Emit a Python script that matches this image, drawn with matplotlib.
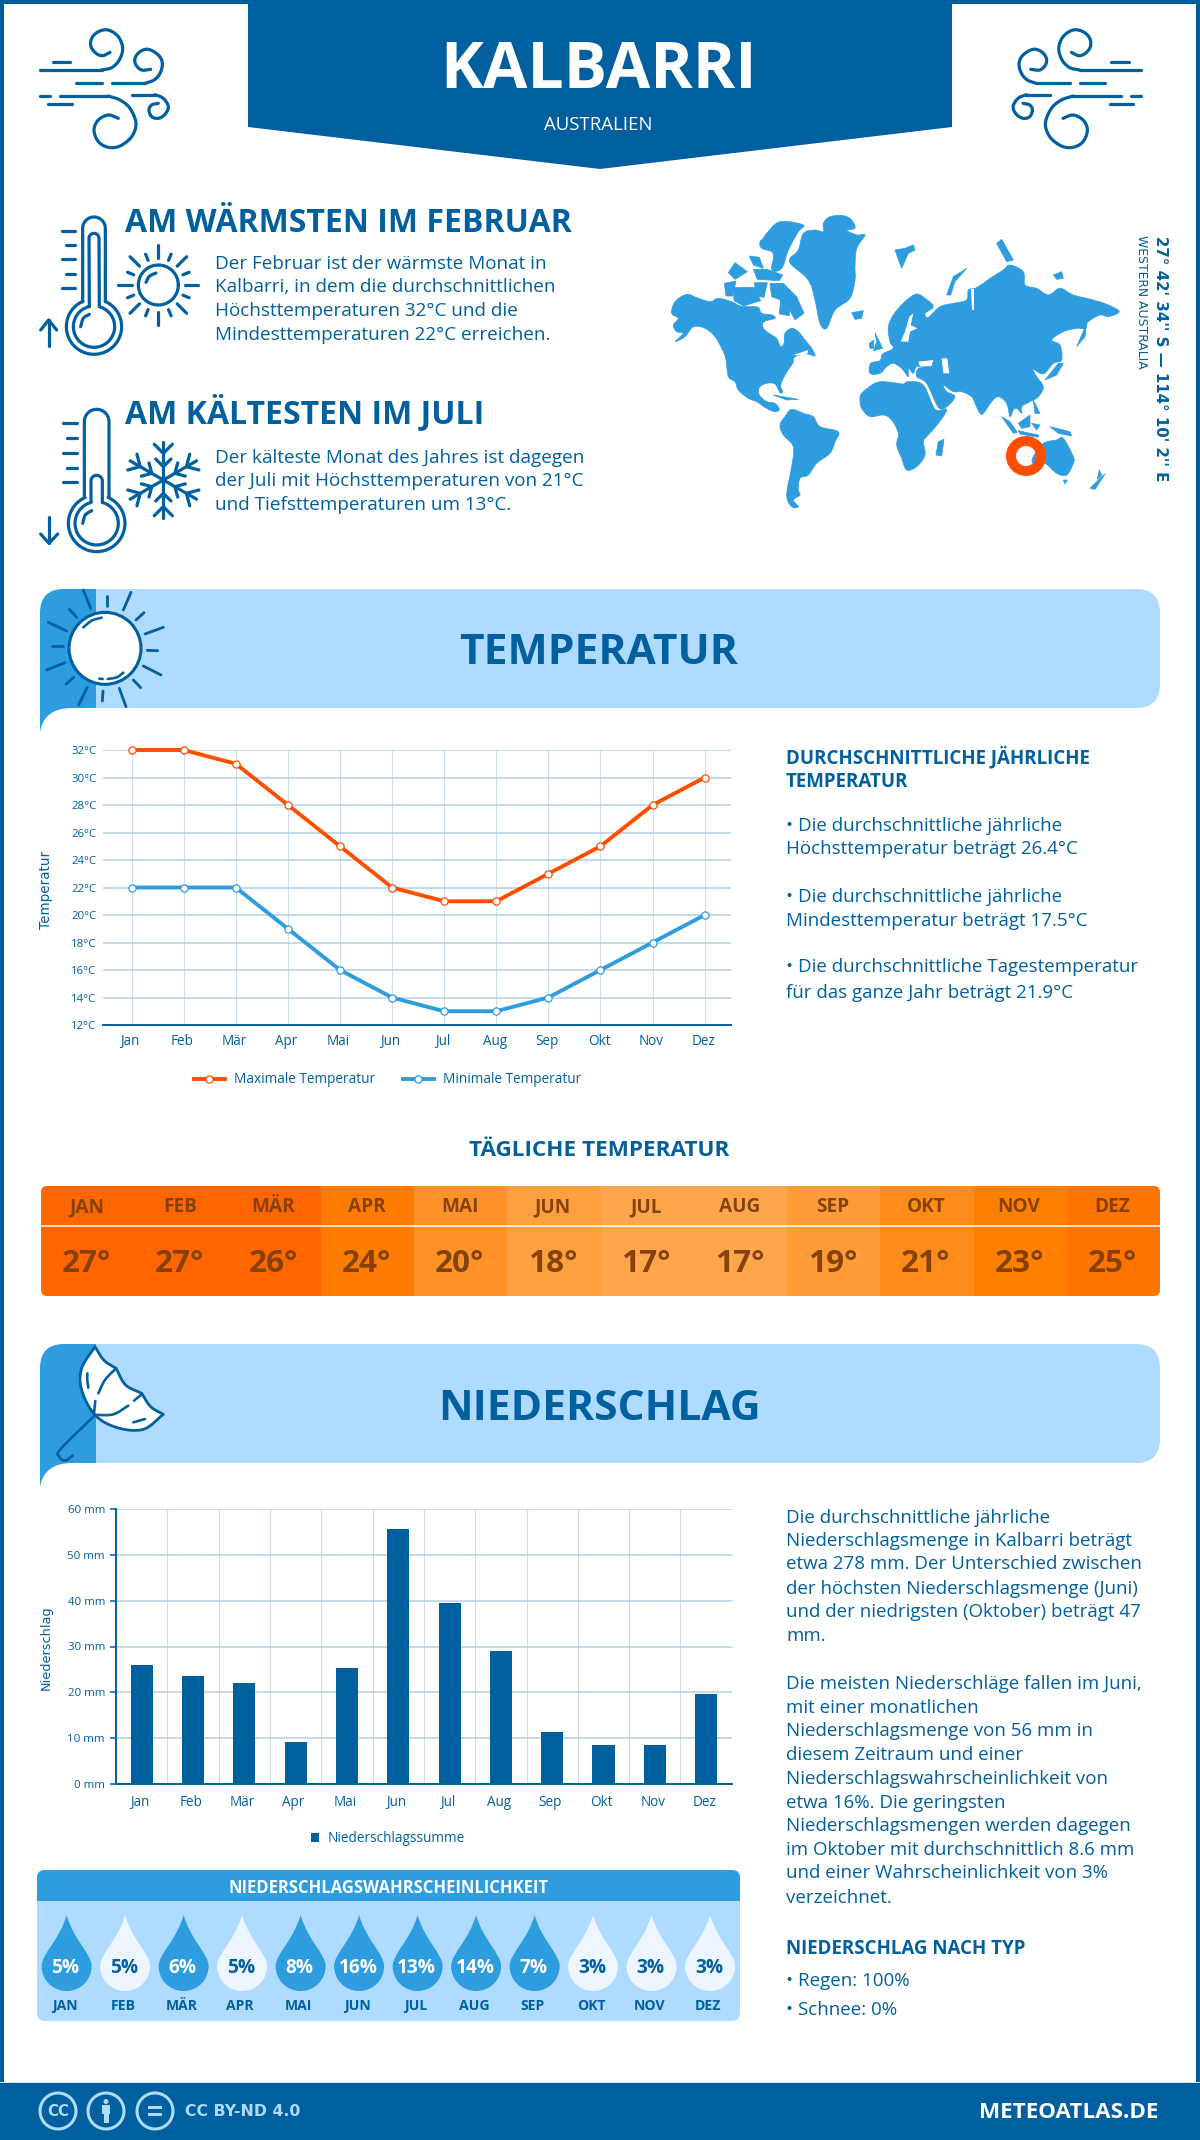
import numpy as np
import matplotlib
matplotlib.use('Agg')
import matplotlib.pyplot as plt
from matplotlib.path import Path
from matplotlib.patches import PathPatch, Rectangle, Circle, FancyBboxPatch, Polygon, Wedge
from matplotlib.transforms import ScaledTranslation

plt.rcParams['font.family'] = ['Open Sans', 'DejaVu Sans']

# ---------- data ----------
months = ['Jan', 'Feb', 'Mär', 'Apr', 'Mai', 'Jun', 'Jul', 'Aug', 'Sep', 'Okt', 'Nov', 'Dez']
months_upper = ['JAN', 'FEB', 'MÄR', 'APR', 'MAI', 'JUN', 'JUL', 'AUG', 'SEP', 'OKT', 'NOV', 'DEZ']
temp_max = [32, 32, 31, 28, 25, 22, 21, 21, 23, 25, 28, 30]
temp_min = [22, 22, 22, 19, 16, 14, 13, 13, 14, 16, 18, 20]
temp_ticks = [12, 14, 16, 18, 20, 22, 24, 26, 28, 30, 32]
daily_temp = [27, 27, 26, 24, 20, 18, 17, 17, 19, 21, 23, 25]
rain_sum = [25.9, 23.5, 22.0, 9.2, 25.3, 55.7, 39.6, 29.0, 11.4, 8.6, 8.6, 19.6]
rain_ticks = [0, 10, 20, 30, 40, 50, 60]
rain_prob = [5, 5, 6, 5, 8, 16, 13, 14, 7, 3, 3, 3]

# ---------- styles ----------
BLUE = '#005F9E'
MID = '#2E9DE0'
LIGHT = '#AEDBFF'
ORANGE = '#FF4E00'
GRID = '#B3CFE3'
daily_colors = ['#FF6600', '#FF6600', '#FF6600', '#FF7C00', '#FF9226', '#FFA040',
                '#FFA64D', '#FFA64D', '#FF9C38', '#FF8C1A', '#FF8000', '#FF7300']
drop_dark = [1, 0, 1, 0, 1, 1, 1, 1, 1, 0, 0, 0]

W, H = 1200, 2140
fig = plt.figure(figsize=(W / 100, H / 100), dpi=100, facecolor='white')
bg = fig.add_axes([0, 0, 1, 1], zorder=0)
bg.set_xlim(0, W)
bg.set_ylim(H, 0)
bg.axis('off')


def fs(px):
    return px * 0.72


def T(x, y, s, px, w=400, c=BLUE, ha='left', va='center', ax=bg, **kw):
    return ax.text(x, y, s, fontsize=fs(px), fontweight=w, color=c, ha=ha, va=va, **kw)


def spline(pts, n=12):
    p = np.array(pts, float)
    p = np.vstack([2 * p[0] - p[1], p, 2 * p[-1] - p[-2]])
    out = []
    for i in range(1, len(p) - 2):
        for t in np.linspace(0, 1, n, endpoint=False):
            a, b, c, d = p[i - 1], p[i], p[i + 1], p[i + 2]
            out.append(0.5 * (2 * b + (c - a) * t + (2 * a - 5 * b + 4 * c - d) * t ** 2 + (3 * b - a - 3 * c + d) * t ** 3))
    out.append(p[-2])
    return np.array(out)


def closed_spline(pts, n=5):
    p = np.array(pts, float)
    out = []
    k = len(p)
    for i in range(k):
        a, b, c, d = p[i - 1], p[i], p[(i + 1) % k], p[(i + 2) % k]
        for t in np.linspace(0, 1, n, endpoint=False):
            out.append(0.5 * (2 * b + (c - a) * t + (2 * a - 5 * b + 4 * c - d) * t ** 2 + (3 * b - a - 3 * c + d) * t ** 3))
    return np.array(out)


def stroke(arr, ox, oy, lw=3.2, c=BLUE, scale=1 / 3, mirror=None, z=3):
    a = np.array(arr, float) * scale + [ox, oy]
    if mirror is not None:
        a[:, 0] = mirror - a[:, 0]
    bg.plot(a[:, 0], a[:, 1], color=c, lw=lw * 0.72, solid_capstyle='round', solid_joinstyle='round', zorder=z)


def arc(cx, cy, r, a0, a1, n=40):
    t = np.radians(np.linspace(a0, a1, n))
    return np.c_[cx + r * np.cos(t), cy - r * np.sin(t)]


# ---------- frame, header, footer ----------
bg.add_patch(Rectangle((0, 0), 4, H, color=BLUE, lw=0))
bg.add_patch(Rectangle((W - 4, 0), 4, H, color=BLUE, lw=0))
bg.add_patch(Rectangle((0, 0), W, 3.5, color=BLUE, lw=0))
bg.add_patch(Polygon([(248, 0), (952, 0), (952, 127), (600, 169), (248, 127)], color=BLUE, lw=0))
bg.add_patch(Rectangle((0, 2082), W, 1.5, color='#DDE3E8', lw=0))
bg.add_patch(Rectangle((0, 2083), W, 57, color=BLUE, lw=0))
T(599, 71, 'KALBARRI', 64.5, 700, 'white', ha='center')
T(598, 125, 'AUSTRALIEN', 18.7, 400, 'white', ha='center')

# wind icons
wind = [
    [(30, 150), (215, 150)],
    spline([(215, 150), (245, 143), (268, 120), (278, 85), (265, 50), (235, 30), (205, 35), (185, 55), (183, 80), (198, 100), (218, 107), (240, 97)]),
    [(68, 125), (120, 125)],
    [(138, 190), (215, 190)],
    [(245, 190), (345, 190)],
    spline([(345, 190), (372, 180), (390, 160), (397, 130), (385, 105), (355, 88), (330, 95), (315, 115), (318, 135), (335, 150), (362, 148)]),
    [(30, 228), (60, 228)],
    [(90, 228), (235, 228)],
    spline([(235, 228), (270, 240), (300, 265), (318, 310), (305, 350), (270, 378), (235, 382), (205, 365), (192, 330), (205, 300), (235, 285), (265, 295)]),
    [(55, 252), (125, 252)],
    [(305, 224), (375, 224)],
    spline([(375, 224), (400, 235), (415, 260), (405, 283), (385, 295), (365, 290), (357, 270), (365, 255), (385, 250)]),
]
for seg in wind:
    stroke(seg, 30, 20)
    stroke(seg, 30, 20, mirror=1181.4)

# ---------- thermometers ----------
ox, oy = 30, 205
out = np.vstack([[(158, 290)], arc(192, 70, 34, 180, 0), [(226, 290)], arc(192, 365, 83, 66, -246)])
stroke(out, ox, oy)
inn = np.vstack([[(178, 305)], arc(192, 100, 15, 180, 0), [(208, 305)], arc(192, 365, 62, 75, -255)])
stroke(inn, ox, oy)
stroke(spline([(152, 365), (160, 340), (178, 328)]), ox, oy)
for x0, y0 in [(97, 78), (107, 121), (97, 163), (107, 206), (97, 248)]:
    stroke([(x0, y0), (135, y0)], ox, oy)
stroke([(56, 423), (56, 345)], ox, oy)
stroke([(32, 375), (56, 345), (80, 375)], ox, oy)
# little sun
stroke(arc(385, 240, 60, 0, 360), ox, oy)
stroke(spline([(348, 232), (358, 214), (378, 204)]), ox, oy)
for ang in range(0, 360, 45):
    c_, s_ = np.cos(np.radians(ang)), np.sin(np.radians(ang))
    r0, r1 = (80, 120)
    stroke([(385 + r0 * c_, 240 - r0 * s_), (385 + r1 * c_, 240 - r1 * s_)], ox, oy)
for ang in np.arange(22.5, 360, 45):
    c_, s_ = np.cos(np.radians(ang)), np.sin(np.radians(ang))
    stroke([(385 + 80 * c_, 240 - 80 * s_), (385 + 100 * c_, 240 - 100 * s_)], ox, oy)

ox, oy = 30, 400
out = np.vstack([[(163, 290)], arc(200, 65, 37, 180, 0), [(237, 290)], arc(200, 370, 85, 66, -246)])
stroke(out, ox, oy)
inn = np.vstack([[(183, 305)], [(183, 243)], arc(200, 243, 17, 180, 0), [(217, 305)], arc(200, 370, 65, 75, -255)])
stroke(inn, ox, oy)
stroke(spline([(158, 370), (166, 345), (185, 332)]), ox, oy)
for x0, y0 in [(100, 70), (110, 115), (100, 158), (110, 203), (100, 247)]:
    stroke([(x0, y0), (140, y0)], ox, oy)
stroke([(57, 350), (57, 430)], ox, oy)
stroke([(32, 402), (57, 430), (83, 402)], ox, oy)
# snowflake
cx, cy = 400, 240
for ang in range(30, 390, 60):
    t = np.radians(ang)
    u = np.array([np.cos(t), -np.sin(t)])
    v = np.array([-u[1], u[0]])
    ctr = np.array([cx, cy])
    stroke([ctr, ctr + 115 * u], ox, oy)
    for r, b in [(80, 38), (40, 32)]:
        p = ctr + r * u
        stroke([p + b * (0.72 * u + 0.72 * v), p, p + b * (0.72 * u - 0.72 * v)], ox, oy)

# ---------- top text ----------
T(125, 224, 'AM WÄRMSTEN IM FEBRUAR', 32, 700)
for y, s in zip([264, 287, 311, 335], ['Der Februar ist der wärmste Monat in',
                                        'Kalbarri, in dem die durchschnittlichen',
                                        'Höchsttemperaturen 32°C und die',
                                        'Mindesttemperaturen 22°C erreichen.']):
    T(215, y, s, 18.85)
T(125, 413, 'AM KÄLTESTEN IM JULI', 32, 700)
for y, s in zip([458, 481, 505], ['Der kälteste Monat des Jahres ist dagegen',
                                   'der Juli mit Höchsttemperaturen von 21°C',
                                   'und Tiefsttemperaturen um 13°C.']):
    T(215, y, s, 18.85)

# ---------- world map (decorative silhouette, coordinates of the crop grid) ----------
land = [
    # North America
    [(35, 340), (45, 305), (80, 283), (110, 293), (150, 305), (175, 295), (215, 305), (240, 318), (270, 320), (295, 322), (305, 340),
     (335, 345), (345, 355), (312, 365), (310, 385), (335, 405), (350, 415), (362, 440), (372, 430), (375, 400), (395, 385), (415, 395),
     (435, 420), (455, 445), (465, 468), (440, 462), (405, 470), (398, 490), (378, 520), (362, 555), (368, 575), (360, 578), (345, 552),
     (320, 550), (298, 562), (298, 585), (320, 605), (345, 610), (358, 628), (345, 635), (320, 625), (290, 605), (265, 595), (235, 570),
     (225, 545), (205, 530), (198, 480), (190, 455), (165, 410), (135, 385), (100, 380), (75, 410), (45, 425), (70, 400), (50, 395),
     (40, 375), (55, 355)],
    # Greenland
    [(490, 70), (510, 50), (550, 47), (575, 60), (585, 85), (560, 90), (590, 105), (615, 105), (590, 145), (585, 200), (585, 240), (570, 295), (525, 330),
     (500, 385), (480, 370), (465, 300), (445, 240), (395, 195), (390, 175), (415, 150), (430, 100), (465, 90), (490, 95)],
    # Canadian Arctic
    [(320, 100), (360, 65), (430, 75), (415, 95), (385, 150), (365, 205), (335, 210), (340, 160), (305, 145), (300, 125), (310, 115)],
    [(330, 250), (370, 250), (410, 290), (432, 340), (405, 360), (375, 305), (335, 290)],
    [(193, 250), (228, 243), (218, 288), (198, 288)],
    [(220, 262), (282, 262), (302, 302), (250, 318), (222, 302)],
    [(205, 218), (225, 188), (262, 215), (225, 238)],
    [(280, 208), (322, 208), (368, 225), (358, 242), (292, 238)],
    [(283, 248), (322, 248), (312, 292), (288, 288)],
    [(362, 298), (388, 303), (388, 347), (358, 342)],
    [(268, 168), (298, 172), (310, 205), (280, 195)],
    # Iceland
    [(575, 338), (610, 332), (605, 355), (585, 358)],
    # South America
    [(360, 675), (375, 650), (395, 628), (430, 640), (460, 650), (480, 680), (535, 695), (525, 725), (510, 760), (470, 790), (445, 825),
     (420, 835), (415, 870), (420, 885), (400, 900), (415, 920), (395, 920), (380, 885), (395, 800), (400, 740), (370, 705)],
    # Africa
    [(600, 600), (605, 580), (640, 552), (665, 545), (700, 548), (730, 552), (745, 545), (790, 555), (825, 628), (860, 628), (835, 670),
     (800, 710), (790, 725), (795, 765), (770, 800), (740, 810), (725, 775), (710, 735), (715, 700), (695, 660), (670, 645), (630, 650), (605, 625)],
    # Eurasia
    [(630, 520), (632, 490), (660, 482), (668, 462), (700, 445), (690, 425), (686, 375), (715, 325), (765, 283), (795, 295), (820, 320),
     (795, 340), (805, 352), (840, 320), (880, 310), (920, 300), (925, 270), (945, 265), (970, 250), (990, 235), (1030, 210), (1050, 195),
     (1090, 215), (1095, 255), (1130, 265), (1165, 285), (1200, 265), (1240, 285), (1300, 300), (1345, 315), (1378, 335), (1345, 350),
     (1320, 345), (1285, 365), (1275, 385), (1250, 385), (1210, 395), (1175, 420), (1200, 435), (1205, 480), (1180, 490), (1150, 522),
     (1120, 508), (1130, 530), (1150, 560), (1135, 590), (1110, 605), (1085, 620), (1085, 640), (1070, 625), (1060, 630), (1050, 650),
     (1040, 610), (1015, 590), (995, 605), (970, 640), (960, 640), (945, 610), (935, 590), (905, 575), (880, 575), (850, 555), (860, 575),
     (885, 590), (860, 620), (835, 622), (800, 550), (770, 530), (775, 505), (800, 503), (770, 500), (760, 520), (745, 505), (745, 530),
     (725, 505), (700, 490), (680, 500), (660, 520)],
    # UK & Ireland
    [(645, 398), (668, 445), (640, 452), (650, 425)],
    [(628, 430), (642, 420), (640, 445), (630, 445)],
    # Svalbard, Novaya Zemlya, Severnaya, Franz Josef
    [(705, 150), (735, 145), (760, 135), (765, 150), (745, 160), (725, 205)],
    [(860, 285), (880, 230), (920, 205), (885, 245), (872, 285)],
    [(1010, 130), (1025, 118), (1060, 180), (1040, 185)],
    [(1180, 225), (1205, 215), (1210, 235), (1190, 238)],
    # Madagascar, Japan, Sakhalin
    [(835, 725), (852, 718), (845, 768), (828, 765)],
    [(1155, 540), (1195, 490), (1210, 490), (1190, 525)],
    [(1250, 440), (1280, 370), (1275, 410)],
    # South-East Asia
    [(1075, 670), (1110, 645), (1110, 680), (1085, 685)],
    [(1025, 650), (1050, 665), (1072, 697), (1060, 700)],
    [(1075, 692), (1135, 705), (1135, 712), (1080, 702)],
    [(1170, 680), (1230, 695), (1235, 708), (1195, 700)],
    [(1120, 600), (1140, 640), (1125, 640)],
    [(1115, 670), (1140, 675), (1130, 690)],
    # Cuba
    [(340, 585), (415, 598), (380, 600)],
    # Australia, Tasmania, New Zealand
    [(1120, 770), (1150, 730), (1190, 720), (1210, 715), (1240, 770), (1240, 790), (1220, 825), (1190, 820), (1155, 790), (1120, 790)],
    [(1210, 840), (1222, 840), (1215, 852)],
    [(1290, 865), (1325, 830), (1335, 822), (1305, 868)],
    [(1318, 810), (1325, 825), (1312, 838)],
]
holes = [
    [(775, 485), (820, 480), (815, 498), (780, 500)],
    [(845, 475), (862, 475), (868, 520), (850, 520)],
    [(722, 425), (735, 395), (748, 350), (760, 340), (752, 375), (772, 385), (750, 395), (745, 425)],
    [(934, 268), (943, 268), (943, 330), (936, 330)],
    [(400, 465), (445, 450), (440, 468)],
]
mx, my = 660, 200
for pg in land:
    shape = closed_spline(pg) if len(pg) > 8 else np.array(pg, float)
    bg.add_patch(Polygon(shape / 3 + [mx, my], fc=MID, ec=MID, lw=0.5, joinstyle='round', zorder=2))
for pg in holes:
    bg.add_patch(Polygon(np.array(pg, float) / 3 + [mx, my], color='white', lw=0, zorder=2.2))
bg.add_patch(Wedge((1026, 456), 20, 0, 360, width=10, color=ORANGE, lw=0, zorder=4))
bg.text(1161, 358.5, "27° 42' 34'' S — 114° 10' 2'' E", fontsize=fs(15), fontweight='bold', family='DejaVu Sans',
        color=BLUE, rotation=-90, ha='center', va='center')
bg.text(1141, 302, 'WESTERN AUSTRALIA', fontsize=fs(12.4), family='DejaVu Sans', color=BLUE, rotation=-90, ha='center', va='center')


# ---------- section banners ----------
def banner(top, bottom, title, title_y):
    r = 24
    verts = [(96, top), (1160 - r, top), (1160, top), (1160, top + r), (1160, bottom - r), (1160, bottom), (1160 - r, bottom), (96, bottom), (96, top)]
    codes = [Path.MOVETO, Path.LINETO, Path.CURVE3, Path.CURVE3, Path.LINETO, Path.CURVE3, Path.CURVE3, Path.LINETO, Path.CLOSEPOLY]
    bg.add_patch(PathPatch(Path(verts, codes), fc=LIGHT, ec='none', zorder=1))
    verts = [(96, top), (64, top), (40, top), (40, top + 24), (40, bottom + 24), (44, bottom), (72, bottom), (96, bottom), (96, top)]
    codes = [Path.MOVETO, Path.LINETO, Path.CURVE3, Path.CURVE3, Path.LINETO, Path.CURVE3, Path.CURVE3, Path.LINETO, Path.CLOSEPOLY]
    bg.add_patch(PathPatch(Path(verts, codes), fc=MID, ec='none', zorder=1))
    T(599, title_y, title, 42.5, 700, ha='center')


banner(589, 708, 'TEMPERATUR', 653)
banner(1344, 1463, 'NIEDERSCHLAG', 1409)

# banner sun
ox, oy = 30, 580
bg.add_patch(Circle((ox + 225 / 3, oy + 205 / 3), 36, fc='white', ec=BLUE, lw=2.2, zorder=3))
for a, b in [((160, 30), (182, 85)), ((230, 47), (230, 78)), ((303, 37), (280, 90)), ((342, 98), (318, 120)),
             ((400, 142), (345, 162)), ((383, 212), (352, 211)), ((393, 285), (340, 258)), ((332, 323), (310, 300)),
             ((288, 380), (268, 325)), ((217, 363), (219, 333)), ((146, 375), (172, 322)), ((108, 313), (131, 292)),
             ((50, 270), (105, 248)), ((67, 199), (98, 199)), ((55, 127), (110, 153)), ((118, 88), (140, 112))]:
    stroke([a, b], ox, oy, lw=2.8)
stroke(spline([(160, 142), (185, 122), (215, 113)]), ox, oy, lw=2.6)
stroke(spline([(233, 297), (260, 292), (280, 278)]), ox, oy, lw=2.6)
stroke([(208, 296), (218, 297)], ox, oy, lw=2.6)

# umbrella
ox, oy = 30, 1335
cnp = np.vstack([spline([(195, 35), (222, 76), (258, 100)]), spline([(258, 100), (287, 150), (335, 175)]),
                 spline([(335, 175), (362, 215), (400, 238)]),
                 spline([(400, 238), (340, 283), (262, 278), (195, 240), (155, 165), (155, 100), (195, 35)])])
bg.add_patch(Polygon(cnp / 3 + [ox, oy], fc='white', ec=BLUE, lw=2.0, joinstyle='round', zorder=3))
stroke(spline([(205, 175), (225, 135), (258, 100)]), ox, oy, lw=2.6, z=4)
stroke([(192, 235), (196, 198)], ox, oy, lw=2.6, z=4)
stroke(spline([(195, 240), (250, 238), (295, 212)]), ox, oy, lw=2.6, z=4)
stroke([(312, 197), (335, 178)], ox, oy, lw=2.6, z=4)
stroke(spline([(172, 115), (172, 135), (175, 158)]), ox, oy, lw=2.6, z=4)
stroke([(310, 262), (345, 252)], ox, oy, lw=2.6, z=4)
stroke(spline([(195, 240), (92, 342), (88, 365), (105, 377), (128, 362)]), ox, oy, lw=2.6, z=4)

# ---------- daily temperature table ----------
T(599, 1151, 'TÄGLICHE TEMPERATUR', 22.5, 700, ha='center')
tx0, tx1, ty0, ty1 = 41, 1160, 1186, 1296
cw = (tx1 - tx0) / 12
clip = FancyBboxPatch((tx0, ty0), tx1 - tx0, ty1 - ty0, boxstyle='round,pad=0,rounding_size=6', transform=bg.transData, fc='none', ec='none')
bg.add_patch(clip)
for i, (c, m, v) in enumerate(zip(daily_colors, months_upper, daily_temp)):
    cell = Rectangle((tx0 + i * cw, ty0), cw + 0.5, ty1 - ty0, fc=c, ec='none', zorder=1)
    bg.add_patch(cell)
    cell.set_clip_path(clip)
    xc = tx0 + (i + 0.5) * cw - 1
    T(xc, 1207, m, 19, 700, '#7E3E05', ha='center', zorder=3, alpha=0.95)
    T(xc, 1264, f'{v}°', 31.5, 700, '#7E3E05', ha='center', zorder=3, alpha=0.95)
bg.plot([tx0, tx1], [1225.5, 1225.5], color='white', lw=1.1, zorder=2)

# ---------- right-hand texts ----------
T(786, 757, 'DURCHSCHNITTLICHE JÄHRLICHE', 18.75, 700)
T(786, 782, 'TEMPERATUR', 18.75, 700)
for y, s in zip([826, 849, 897, 921, 967, 993],
                ['• Die durchschnittliche jährliche', 'Höchsttemperatur beträgt 26.4°C',
                 '• Die durchschnittliche jährliche', 'Mindesttemperatur beträgt 17.5°C',
                 '• Die durchschnittliche Tagestemperatur', 'für das ganze Jahr beträgt 21.9°C']):
    T(786, y, s, 18.8)
para = ['Die durchschnittliche jährliche', 'Niederschlagsmenge in Kalbarri beträgt', 'etwa 278 mm. Der Unterschied zwischen',
        'der höchsten Niederschlagsmenge (Juni)', 'und der niedrigsten (Oktober) beträgt 47', 'mm.',
        'Die meisten Niederschläge fallen im Juni,', 'mit einer monatlichen', 'Niederschlagsmenge von 56 mm in',
        'diesem Zeitraum und einer', 'Niederschlagswahrscheinlichkeit von', 'etwa 16%. Die geringsten',
        'Niederschlagsmengen werden dagegen', 'im Oktober mit durchschnittlich 8.6 mm',
        'und einer Wahrscheinlichkeit von 3%', 'verzeichnet.']
para_y = [1518, 1541, 1564, 1589, 1612, 1636, 1684, 1708, 1731, 1755, 1779, 1803, 1826, 1850, 1873, 1898]
for y, s in zip(para_y, para):
    T(786, y, s, 18.8)
T(786, 1949, 'NIEDERSCHLAG NACH TYP', 18.75, 700)
T(786, 1981, '• Regen: 100%', 18.8)
T(786, 2010, '• Schnee: 0%', 18.8)


# ---------- chart axes ----------
def make_ax(l, r, t, b):
    a = fig.add_axes([l / W, 1 - b / H, (r - l) / W, (b - t) / H], zorder=2)
    a.patch.set_alpha(0)
    return a


def shift_labels(labels, dx, dy=0):
    for lab in labels:
        lab.set_transform(lab.get_transform() + ScaledTranslation(dx / 100, dy / 100, fig.dpi_scale_trans))


# temperature line chart
ax = make_ax(103.3, 731, 750, 1025)
x = np.arange(12)
ax.set_xlim(-0.543, 11.505)
ax.set_ylim(12, 32)
ax.set_yticks(temp_ticks)
ax.set_yticklabels([f'{v}°C' for v in temp_ticks])
ax.set_xticks(x)
ax.set_xticklabels(months)
ax.grid(axis='y', color=GRID, lw=1.1)
ax.grid(axis='x', color='#CFE0EC', lw=0.8)
ax.set_axisbelow(True)
for s in ['top', 'right', 'left']:
    ax.spines[s].set_visible(False)
ax.spines['bottom'].set_color(BLUE)
ax.spines['bottom'].set_linewidth(1.4)
ax.tick_params(axis='y', length=0, labelsize=fs(11.5), labelcolor=BLUE, pad=5)
ax.tick_params(axis='x', length=0, labelsize=fs(13.5), labelcolor=BLUE, pad=6.5)
shift_labels(ax.get_xticklabels(), -1.5)
l1, = ax.plot(x, temp_max, color=ORANGE, lw=2.8, marker='o', ms=5.2, mfc='white', mec=ORANGE, mew=0.9, clip_on=False,
              label='Maximale Temperatur', zorder=3)
l2, = ax.plot(x, temp_min, color=MID, lw=2.8, marker='o', ms=5.2, mfc='white', mec=MID, mew=0.9, clip_on=False,
              label='Minimale Temperatur', zorder=3)
leg = ax.legend(handles=[l1, l2], ncol=2, frameon=False, loc='center', bbox_to_anchor=(387.5 / W, 1 - 1080 / H),
                bbox_transform=fig.transFigure, fontsize=fs(13.6), labelcolor=BLUE, handlelength=2.28, handletextpad=0.66,
                columnspacing=2.06, borderpad=0, borderaxespad=0)
bg.text(46, 890, 'Temperatur', fontsize=fs(13.5), family='DejaVu Sans', color=BLUE, rotation=90, ha='center', va='center')

# precipitation bar chart
ax2 = make_ax(116, 731.8, 1509, 1784)
ax2.set_xlim(-0.5, 11.5)
ax2.set_ylim(0, 60)
ax2.set_yticks(rain_ticks)
ax2.set_yticklabels([f'{v} mm' for v in rain_ticks])
ax2.set_xticks(x)
ax2.set_xticklabels(months)
ax2.set_xticks(x[:-1] + 0.5, minor=True)
ax2.grid(axis='y', color=GRID, lw=1.1)
ax2.grid(axis='x', which='minor', color='#CFDCE6', lw=0.8)
ax2.grid(axis='x', which='major', visible=False)
ax2.set_axisbelow(True)
for s in ['top', 'right']:
    ax2.spines[s].set_visible(False)
ax2.spines['bottom'].set_color(BLUE)
ax2.spines['left'].set_color(BLUE)
ax2.spines['bottom'].set_linewidth(1.4)
ax2.spines['left'].set_linewidth(1.4)
ax2.tick_params(axis='x', which='both', length=0, labelsize=fs(13.5), labelcolor=BLUE, pad=8)
ax2.tick_params(axis='y', length=4, width=1.1, color=BLUE, labelsize=fs(11.5), labelcolor=BLUE, pad=4)
shift_labels(ax2.get_xticklabels(), -2)
bars = ax2.bar(x, rain_sum, width=0.43, color=BLUE, label='Niederschlagssumme', zorder=3)
ax2.legend(handles=[bars], frameon=False, loc='center', bbox_to_anchor=(387.5 / W, 1 - 1839 / H),
           bbox_transform=fig.transFigure, fontsize=fs(13.6), labelcolor=BLUE, handlelength=0.62, handleheight=0.62,
           handletextpad=0.6, borderpad=0, borderaxespad=0)
bg.text(46, 1648, 'Niederschlag', fontsize=fs(12.9), family='DejaVu Sans', color=BLUE, rotation=90, ha='center', va='center')

# ---------- precipitation probability panel ----------
px0, px1, py0, py1 = 37, 740, 1870, 2021
clip2 = FancyBboxPatch((px0, py0), px1 - px0, py1 - py0, boxstyle='round,pad=0,rounding_size=8', transform=bg.transData, fc='none', ec='none')
bg.add_patch(clip2)
r1 = Rectangle((px0, py0), px1 - px0, py1 - py0, fc=LIGHT, ec='none', zorder=1)
r2 = Rectangle((px0, py0), px1 - px0, 31, fc=MID, ec='none', zorder=1.1)
bg.add_patch(r1)
bg.add_patch(r2)
r1.set_clip_path(clip2)
r2.set_clip_path(clip2)
T(389, 1888, 'NIEDERSCHLAGSWAHRSCHEINLICHKEIT', 16.6, 700, 'white', ha='center', zorder=3)
for i, (p, m, d) in enumerate(zip(rain_prob, months_upper, drop_dark)):
    xc = 66.6 + i * 58.5
    top, mid, bot, rw = 1915, 1966, 1991, 25
    verts = [(xc, top), (xc + 7, top + 25), (xc + rw, mid - 12), (xc + rw, mid),
             (xc + rw, mid + 14), (xc + 14, bot), (xc, bot),
             (xc - 14, bot), (xc - rw, mid + 14), (xc - rw, mid),
             (xc - rw, mid - 12), (xc - 7, top + 25), (xc, top), (xc, top)]
    codes = [Path.MOVETO] + [Path.CURVE4] * 12 + [Path.CLOSEPOLY]
    bg.add_patch(PathPatch(Path(verts, codes), fc=MID if d else '#EDF6FF', ec='none', zorder=2))
    T(xc - 1, 1968, f'{p}%', 19, 700, 'white' if d else BLUE, ha='center', zorder=3)
    T(xc - 2, 2006, m, 14, 700, BLUE, ha='center', zorder=3)

# ---------- footer ----------
CCC = '#AEDBFF'
for cx_ in [58, 106, 155]:
    bg.add_patch(Circle((cx_, 2111), 18, fc='none', ec=CCC, lw=2.2, zorder=3))
bg.text(58, 2111, 'CC', fontsize=fs(15), fontweight='bold', family='DejaVu Sans', color=CCC, ha='center', va='center', zorder=4)
bg.add_patch(Circle((106, 2101.5), 2.5, fc=CCC, ec='none', zorder=4))
bg.add_patch(Rectangle((102, 2105), 8, 9, fc=CCC, ec='none', zorder=4))
bg.add_patch(Rectangle((103.5, 2112), 5, 11, fc=CCC, ec='none', zorder=4))
bg.add_patch(Rectangle((148, 2106), 14, 3, fc=CCC, ec='none', zorder=4))
bg.add_patch(Rectangle((148, 2113), 14, 3, fc=CCC, ec='none', zorder=4))
bg.text(185, 2112, 'CC BY-ND 4.0', fontsize=fs(15.7), fontweight='bold', family='DejaVu Sans', color=CCC, ha='left', va='center', zorder=4)
T(1158, 2113, 'METEOATLAS.DE', 22.4, 700, 'white', ha='right', zorder=4)

fig.savefig('out.png', dpi=100, facecolor='white')
